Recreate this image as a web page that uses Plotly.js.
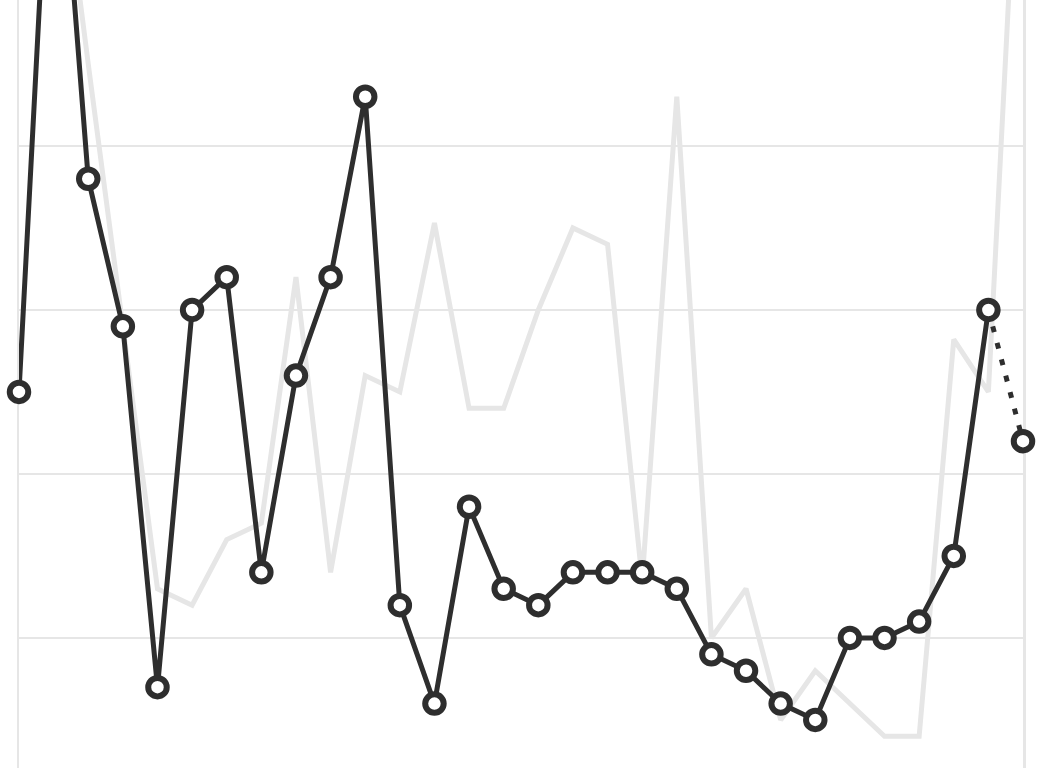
<!DOCTYPE html>
<html>
<head>
<meta charset="utf-8">
<script src="https://cdn.plot.ly/plotly-3.0.1.min.js"></script>
<style>
  html, body { margin: 0; padding: 0; background: #ffffff; }
  #chart { width: 1037px; height: 768px; }
</style>
</head>
<body>
<div id="chart"></div>
<script>
// 30 periods, no visible labels in the picture
const periods = Array.from({ length: 30 }, (_, i) => i);

// Current series (dark line with markers); the last step is a projection (dotted)
const currentValues = [
  25, 65, 38, 29, 7, 30, 32, 14, 26, 32,
  43, 12, 6, 18, 13, 12, 14, 14, 14, 13,
  9, 8, 6, 5, 10, 10, 11, 15, 30, 22,
];

// Comparison series (light grey line behind)
const compareValues = [
  62, 61.5, 45, 29, 13, 12, 16, 17, 32, 14,
  26, 25, 35.3, 24, 24, 30, 35, 34, 13.5, 43,
  10, 13, 5, 8, 6, 4, 4, 28.2, 25, 66,
];

const gridTicks = [10, 20, 30, 40];

const DARK = "#2e2e2e";
const LIGHT = "#e6e6e6";

function renderChart() {
  const lastSolid = currentValues.length - 2;

  const traces = [
    {
      // Grey comparison line
      type: "scatter",
      mode: "lines",
      x: periods,
      y: compareValues,
      line: { color: LIGHT, width: 5 },
      hoverinfo: "skip",
      showlegend: false,
    },
    {
      // Dotted projection for the final step
      type: "scatter",
      mode: "lines",
      x: periods.slice(lastSolid),
      y: currentValues.slice(lastSolid),
      line: { color: DARK, width: 5, dash: "6px,11px" },
      hoverinfo: "skip",
      showlegend: false,
    },
    {
      // Solid actuals
      type: "scatter",
      mode: "lines",
      x: periods.slice(0, lastSolid + 1),
      y: currentValues.slice(0, lastSolid + 1),
      line: { color: DARK, width: 5 },
      hoverinfo: "skip",
      showlegend: false,
    },
    {
      // Hollow markers on every point
      type: "scatter",
      mode: "markers",
      x: periods,
      y: currentValues,
      cliponaxis: false,
      marker: {
        size: 18.5,
        color: "#ffffff",
        symbol: "circle",
        line: { color: DARK, width: 6 },
      },
      showlegend: false,
    },
  ];

  const layout = {
    width: 1037,
    height: 768,
    paper_bgcolor: "#ffffff",
    plot_bgcolor: "#ffffff",
    margin: { l: 19, r: 14, t: 0, b: 0 },
    showlegend: false,
    xaxis: {
      range: [0, 29],
      showgrid: false,
      zeroline: false,
      showticklabels: false,
      ticks: "",
      layer: "below traces",
    },
    yaxis: {
      range: [2.07, 48.9],
      tickvals: gridTicks,
      showgrid: true,
      gridcolor: LIGHT,
      gridwidth: 2.5,
      zeroline: false,
      showticklabels: false,
      ticks: "",
      showline: true,
      mirror: true,
      linecolor: LIGHT,
      linewidth: 2.5,
      layer: "below traces",
    },
  };

  Plotly.newPlot("chart", traces, layout, { displayModeBar: false, staticPlot: true });
}

renderChart();
</script>
</body>
</html>
